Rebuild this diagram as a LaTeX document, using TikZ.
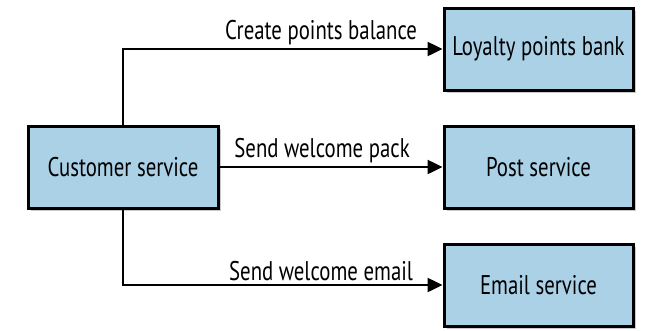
\documentclass[tikz,border=0pt]{standalone}
\usepackage{fontspec}
\setmainfont{PT Sans}[FakeStretch=0.77]
\usetikzlibrary{arrows.meta,positioning,shadows}
\definecolor{boxblue}{RGB}{171,209,231}

\begin{document}
\begin{tikzpicture}[
    x=1pt, y=1pt,
    node distance=32pt,
    font=\fontsize{27}{30}\selectfont,
    svc/.style={rectangle, draw, line width=3pt, fill=boxblue, minimum width=189pt, minimum height=82pt, align=center,
        drop shadow={shadow xshift=2.5pt, shadow yshift=-2.5pt, opacity=0.35, fill=black!60}},
    arrow/.style={-{Triangle[length=15pt,width=14pt]}, line width=2.5pt},
    lbl/.style={above, inner sep=3pt}
]
\useasboundingbox (0,0) rectangle (649,-330);

% Sender
\node[svc, minimum width=190pt] (customer) at (123,-167) {Customer service};

% Receivers
\node[svc] (post) at (538.5,-167) {Post service};
\node[svc, above=33pt of post] (loyalty) {Loyalty points bank};
\node[svc, below=33pt of post] (email) {Email service};

% Messages
\draw[arrow] (customer.north) |- node[lbl, pos=0.81] {Create points balance} (loyalty.west);
\draw[arrow] (customer.east) -- node[lbl, pos=0.46] {Send welcome pack} (post.west);
\draw[arrow] (customer.south) |- node[lbl, pos=0.81] {Send welcome email} (email.west);

\end{tikzpicture}
\end{document}
